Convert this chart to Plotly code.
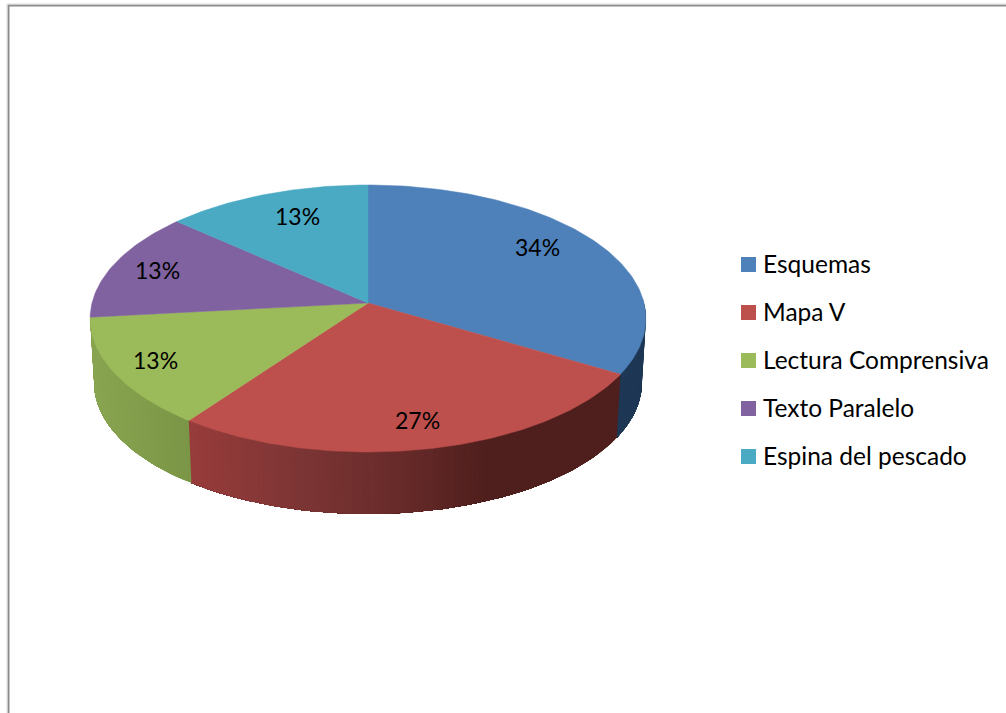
import math
import plotly.graph_objects as go

# ---- data -------------------------------------------------------------
CATEGORIES = ["Esquemas", "Mapa V", "Lectura Comprensiva", "Texto Paralelo", "Espina del pescado"]
VALUES = [33.5, 26.51, 13.29, 13.3, 13.4]

# ---- styles -----------------------------------------------------------
TOP_COLORS = ["#4e80ba", "#bd504c", "#9bba59", "#7f629f", "#4aa9c3"]
# side shading: (x pixel, colour) stops per slice
SIDE_STOPS = [
    [(0, "#1d3754"), (1006, "#1d3754")],
    [(190, "#983c3b"), (300, "#7c3534"), (400, "#682b2a"), (490, "#4f1f1d"), (1006, "#4f1f1d")],
    [(90, "#8aa551"), (190, "#7a9646")],
    [(0, "#7a6090"), (1006, "#7a6090")],
    [(0, "#3f8fa5"), (1006, "#3f8fa5")],
]
FONT = "Lato"
LABEL_SIZE = 23
LEGEND_SIZE = 24.5
LABEL_POS = [(537, 247), (417, 420), (155, 360), (157, 270), (297, 216)]
LEGEND_X, LEGEND_Y0, LEGEND_DY = 748.5, 264.5, 48

# pie projection
CX, TOP_APEX_Y, BOT_APEX_Y = 368, 303, 367.7
TOP_A, TOP_B, BOT_A, BOT_B, PERSP = 131.7, 276, 129.3, 272, 0.116
SIDE_END_ANGLE = 264


def project(theta_deg, a, b, apex):
    t = math.radians(theta_deg)
    u, v = math.sin(t), math.cos(t)
    d = 1 + PERSP * v
    return CX + b * u / d, apex - a * v / d


def hex2rgb(h):
    return tuple(int(h[i:i + 2], 16) for i in (1, 3, 5))


def shade(stops, x):
    if x <= stops[0][0]:
        return stops[0][1]
    for (x0, c0), (x1, c1) in zip(stops, stops[1:]):
        if x <= x1:
            f = (x - x0) / (x1 - x0)
            r0, r1 = hex2rgb(c0), hex2rgb(c1)
            return "#%02x%02x%02x" % tuple(round(p + (q - p) * f) for p, q in zip(r0, r1))
    return stops[-1][1]


total = sum(VALUES)
edges = [0.0]
for val in VALUES:
    edges.append(edges[-1] + 360 * val / total)

fig = go.Figure()

# side wall: each band runs to the slice end and the next band paints over it,
# so there are no anti-aliased seams between bands
for i, name in enumerate(CATEGORIES):
    start, end = max(edges[i], 88), min(edges[i + 1], SIDE_END_ANGLE)
    if end <= start:
        continue
    n = max(1, int((end - start) / 1.0))
    angles = [start + (end - start) * k / n for k in range(n + 1)]
    for k in range(n):
        rest = angles[k:]
        top = [project(a, TOP_A, TOP_B, TOP_APEX_Y) for a in rest]
        bot = [project(a, BOT_A, BOT_B, BOT_APEX_Y) for a in reversed(rest)]
        pts = top + bot + top[:1]
        col = shade(SIDE_STOPS[i], top[0][0])
        fig.add_trace(go.Scatter(
            x=[p[0] for p in pts], y=[p[1] for p in pts],
            mode="lines", fill="toself", fillcolor=col,
            line=dict(width=0), hoverinfo="skip", showlegend=False,
        ))

# top faces
for i, name in enumerate(CATEGORIES):
    n = max(2, int((edges[i + 1] - edges[i]) / 1.0))
    arc = [project(edges[i] + (edges[i + 1] - edges[i]) * k / n, TOP_A, TOP_B, TOP_APEX_Y) for k in range(n + 1)]
    xs = [CX] + [p[0] for p in arc] + [CX]
    ys = [TOP_APEX_Y] + [p[1] for p in arc] + [TOP_APEX_Y]
    fig.add_trace(go.Scatter(
        x=xs, y=ys, mode="lines", fill="toself", fillcolor=TOP_COLORS[i],
        line=dict(color=TOP_COLORS[i], width=0.5), name=name, hoverinfo="name", showlegend=False,
    ))

# legend swatches
fig.add_trace(go.Scatter(
    x=[LEGEND_X] * len(CATEGORIES),
    y=[LEGEND_Y0 + LEGEND_DY * i for i in range(len(CATEGORIES))],
    mode="markers",
    marker=dict(symbol="square", size=15, color=TOP_COLORS, line=dict(width=0)),
    hoverinfo="skip", showlegend=False,
))

annotations = []
for i, val in enumerate(VALUES):
    annotations.append(dict(
        x=LABEL_POS[i][0], y=LABEL_POS[i][1], text=f"{round(val)}%", showarrow=False,
        xanchor="center", yanchor="middle", font=dict(family=FONT, size=LABEL_SIZE, color="#000000"),
    ))
for i, name in enumerate(CATEGORIES):
    annotations.append(dict(
        x=LEGEND_X + 12.5, y=LEGEND_Y0 + LEGEND_DY * i - 1.5, text=name, showarrow=False,
        xanchor="left", yanchor="middle", font=dict(family=FONT, size=LEGEND_SIZE, color="#000000"),
    ))

shapes = [
    dict(type="path", path="M 8.5,713 L 8.5,5.5 L 1006,5.5", line=dict(color="#8c8c8c", width=2)),
    dict(type="path", path="M 1006,4 L 7,4 L 7,713", line=dict(color="#d8d8d8", width=1)),
]

fig.update_layout(
    width=1006, height=713, autosize=False,
    margin=dict(l=0, r=0, t=0, b=0),
    paper_bgcolor="white", plot_bgcolor="white",
    xaxis=dict(range=[0, 1006], visible=False, fixedrange=True),
    yaxis=dict(range=[713, 0], visible=False, fixedrange=True),
    annotations=annotations, shapes=shapes, showlegend=False,
)

fig.write_html("out.html", config=dict(displayModeBar=False),
               post_script="document.body.style.margin='0';document.body.style.overflow='hidden';")
